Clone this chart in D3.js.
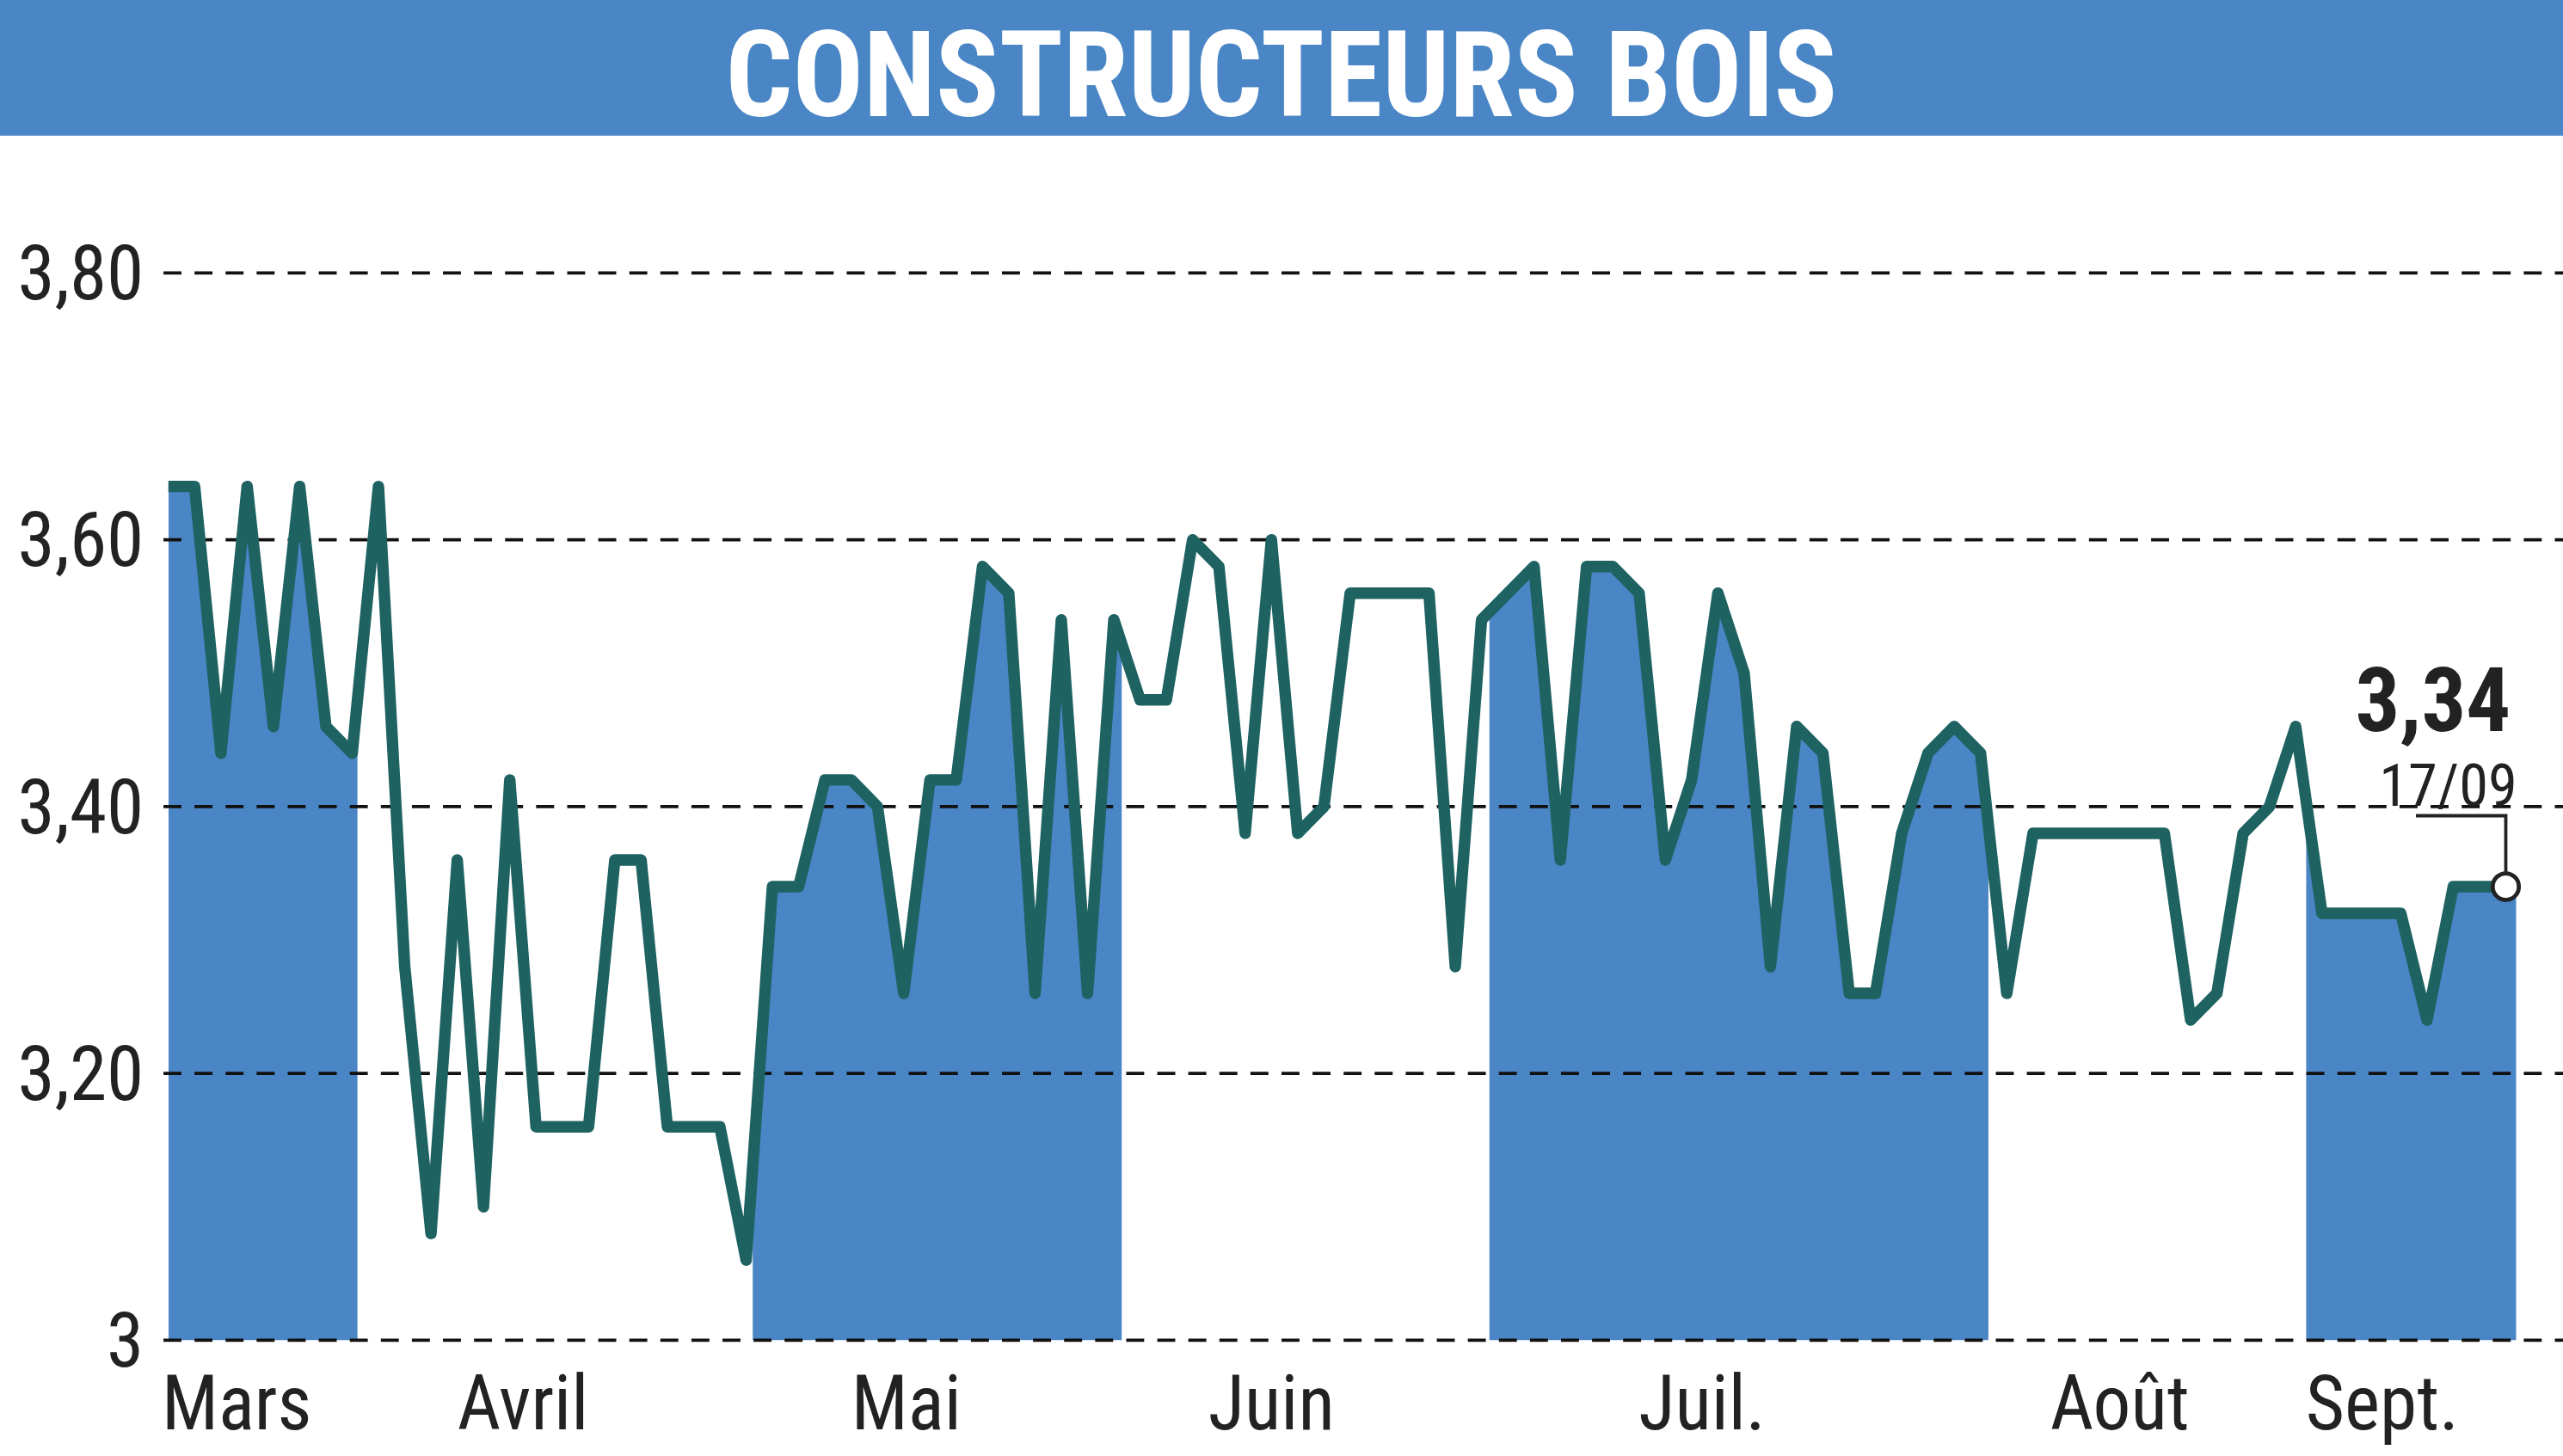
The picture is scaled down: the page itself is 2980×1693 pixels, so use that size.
<!DOCTYPE html>
<html><head><meta charset="utf-8">
<script src="https://cdn.jsdelivr.net/npm/d3@7"></script>
<style>body{margin:0;background:#fff}svg{display:block}</style>
</head><body>
<script>
const title = "CONSTRUCTEURS BOIS";
const values = [3.64,3.64,3.44,3.64,3.46,3.64,3.46,3.44,3.64,3.28,3.08,3.36,3.10,3.42,3.16,3.16,3.16,3.36,3.36,3.16,3.16,3.16,3.06,3.34,3.34,3.42,3.42,3.40,3.26,3.42,3.42,3.58,3.56,3.26,3.54,3.26,3.54,3.48,3.48,3.60,3.58,3.38,3.60,3.38,3.40,3.56,3.56,3.56,3.56,3.28,3.54,3.56,3.58,3.36,3.58,3.58,3.56,3.36,3.42,3.56,3.50,3.28,3.46,3.44,3.26,3.26,3.38,3.44,3.46,3.44,3.26,3.38,3.38,3.38,3.38,3.38,3.38,3.24,3.26,3.38,3.40,3.46,3.32,3.32,3.32,3.32,3.24,3.34,3.34,3.34];
const months = ["Mars","Avril","Mai","Juin","Juil.","Août","Sept."];
const monthPos = [2.6,13.5,28.1,42.0,58.4,74.3,84.3];
const bands = [[0,7.2],[22.25,36.3],[50.3,69.3],[81.4,89.4]];
const yTicks = [3,3.2,3.4,3.6,3.8];
const yLabels = ["3","3,20","3,40","3,60","3,80"];
const lastLabel = "3,34", lastDate = "17/09";

const W=1568,H=880;
const svg=d3.select("body").append("svg").attr("width",2980).attr("height",1693)
 .attr("viewBox",`0 0 ${W} ${H}`).attr("preserveAspectRatio","none");
const F="'Liberation Sans Narrow','Roboto Condensed','Arial Narrow',sans-serif";
const x=d3.scaleLinear().domain([0,values.length-1]).range([103,1533]);
const y=d3.scaleLinear().domain([3,3.8]).range([810,165]);

svg.append("rect").attr("width",W).attr("height",82).attr("fill","#4a86c5");
svg.append("text").attr("x",784).attr("y",70).attr("text-anchor","middle").attr("fill","#fff")
 .attr("font-family",F).attr("font-weight","bold").attr("font-size",72).text(title);

const defs=svg.append("defs");
const cp=defs.append("clipPath").attr("id","bands");
bands.forEach(b=>cp.append("rect").attr("x",x(b[0])).attr("width",x(b[1])-x(b[0])).attr("y",0).attr("height",H));
svg.append("path").datum(values).attr("d",d3.area().x((d,i)=>i==values.length-1?x(89.4):x(i)).y0(y(3)).y1(d=>y(d))).attr("fill","#4a86c5").attr("clip-path","url(#bands)");

yTicks.forEach((t,i)=>{
 svg.append("line").attr("x1",100).attr("x2",W).attr("y1",y(t)).attr("y2",y(t))
  .attr("stroke","#111").attr("stroke-width",2).attr("stroke-dasharray","11,8");
 svg.append("text").attr("x",88).attr("y",y(t)+16).attr("text-anchor","end").attr("font-family",F)
  .attr("font-size",46).attr("fill","#222").text(yLabels[i]);
});
months.forEach((m,i)=>svg.append("text").attr("x",x(monthPos[i])).attr("y",864).attr("text-anchor","middle")
 .attr("font-family",F).attr("font-size",46).attr("fill","#222").text(m));

svg.append("path").datum(values).attr("d",d3.line().x((d,i)=>x(i)).y(d=>y(d)))
 .attr("fill","none").attr("stroke","#1f6262").attr("stroke-width",7).attr("stroke-linejoin","round");

const lx=x(values.length-1), ly=y(values[values.length-1]);
svg.append("text").attr("x",1536).attr("y",442).attr("text-anchor","end").attr("font-family",F)
 .attr("font-weight","bold").attr("font-size",54).attr("fill","#222").text(lastLabel);
svg.append("text").attr("x",1540).attr("y",487).attr("text-anchor","end").attr("font-family",F)
 .attr("font-size",36).attr("fill","#222").text(lastDate);
svg.append("path").attr("d",`M1478,493H${lx}V${ly-8}`).attr("fill","none").attr("stroke","#222").attr("stroke-width",2);
svg.append("circle").attr("cx",lx).attr("cy",ly).attr("r",8).attr("fill","#fff").attr("stroke","#222").attr("stroke-width",2.5);
</script>
</body></html>
